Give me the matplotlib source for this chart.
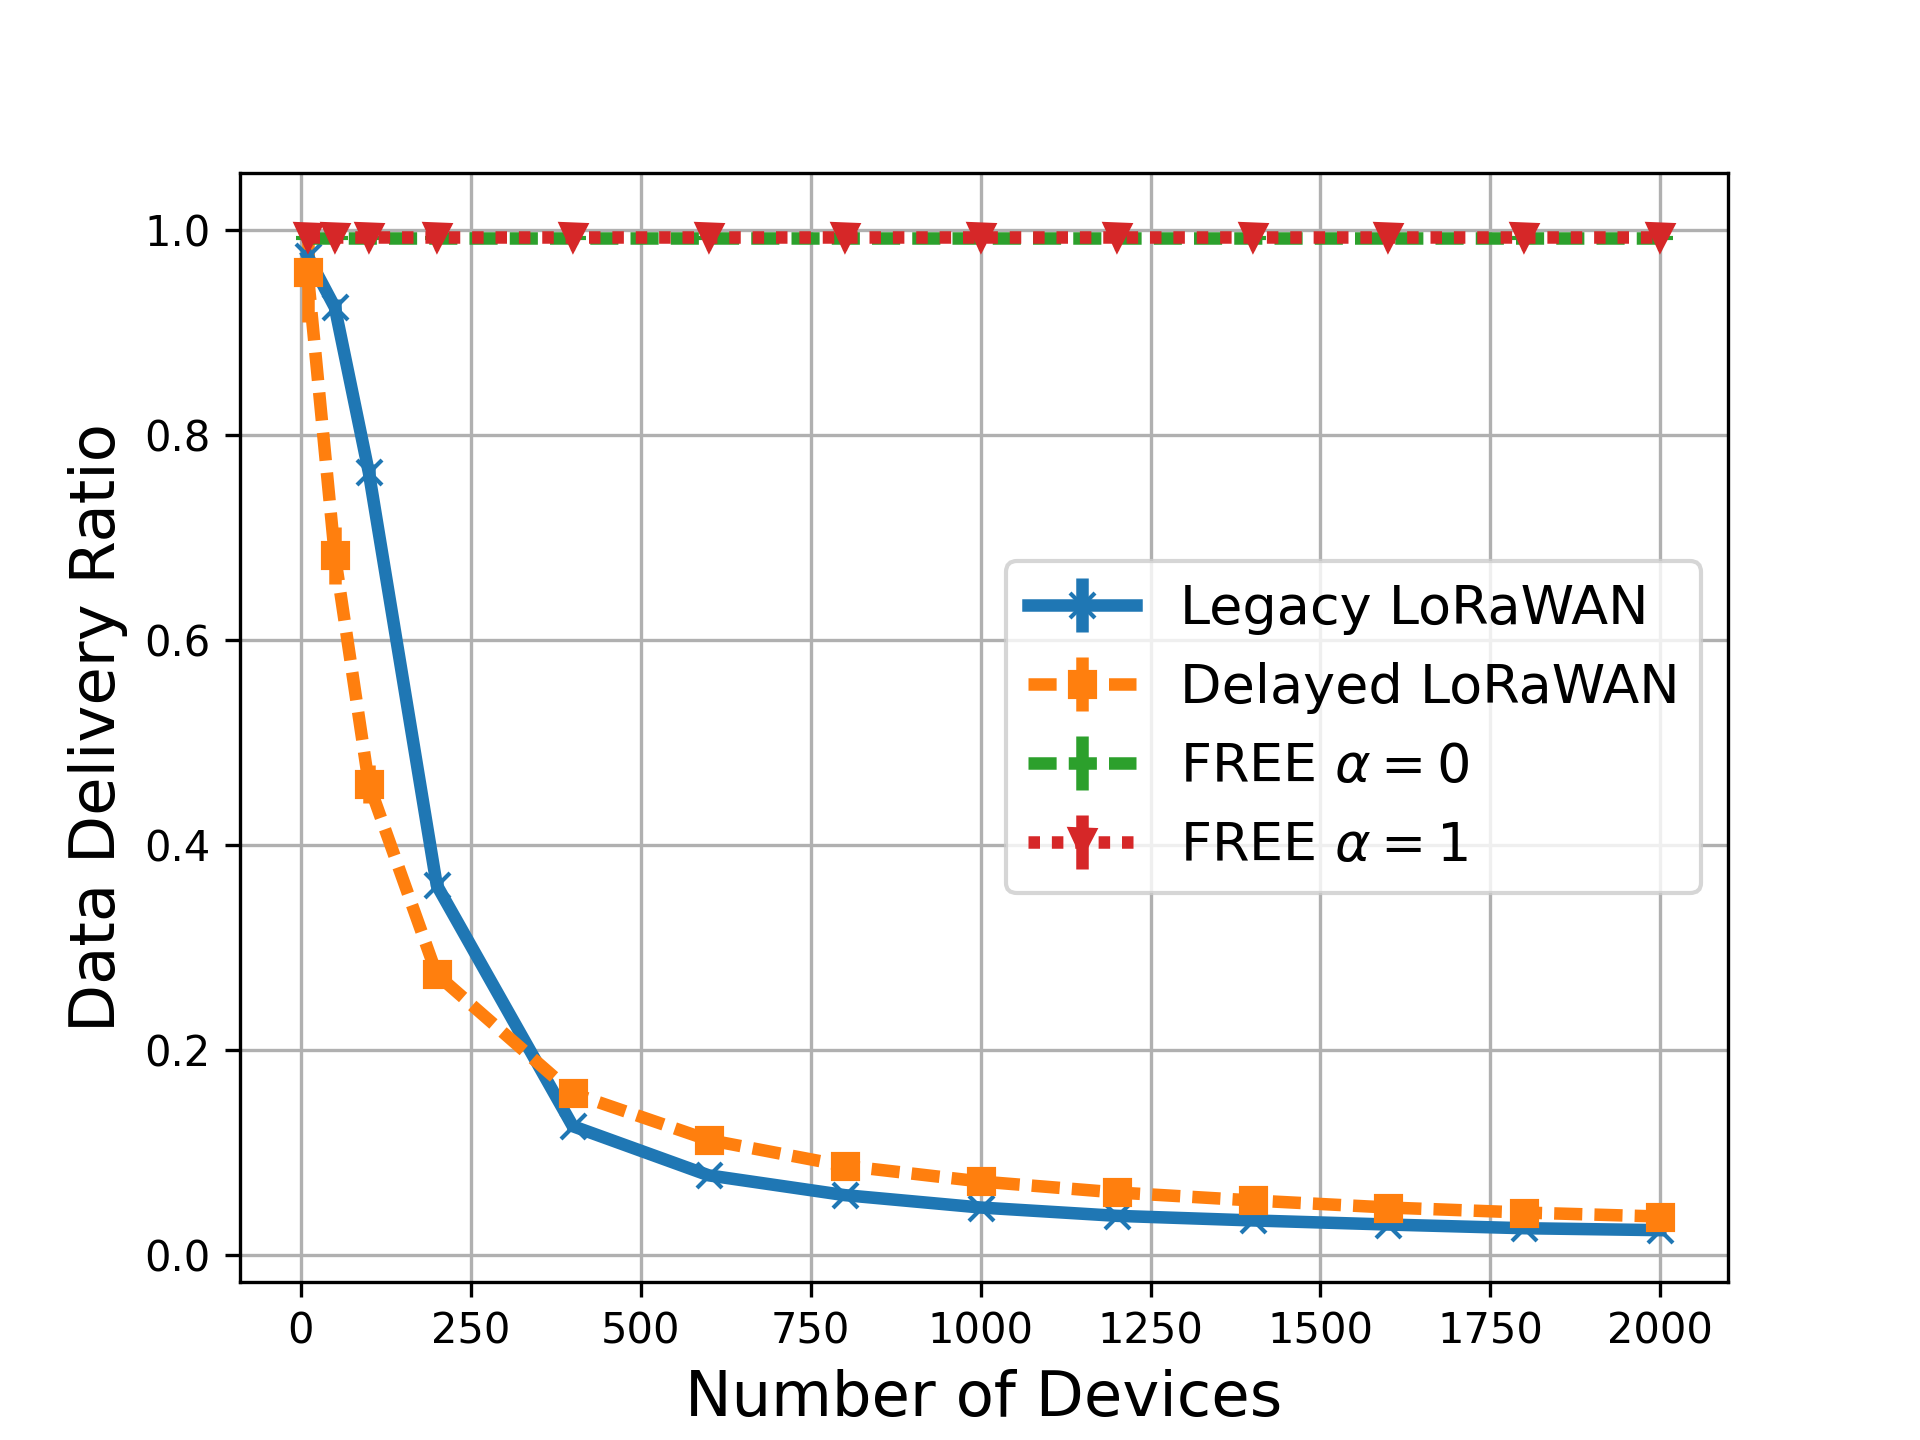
import matplotlib
matplotlib.use("Agg")
import matplotlib.pyplot as plt

devices = [10, 50, 100, 200, 400, 600, 800, 1000, 1200, 1400, 1600, 1800, 2000]

legacy = [0.975, 0.925, 0.764, 0.361, 0.126, 0.078, 0.0587, 0.0466, 0.0385, 0.034, 0.030, 0.0264, 0.0245]
legacy_err = [0.006, 0.008, 0.008, 0.006, 0.004, 0.003, 0.002, 0.002, 0.002, 0.001, 0.001, 0.001, 0.001]

delayed = [0.959, 0.683, 0.460, 0.274, 0.158, 0.1125, 0.0873, 0.072, 0.0613, 0.0535, 0.0466, 0.0417, 0.0378]
delayed_err = [0.048, 0.028, 0.0185, 0.008, 0.004, 0.003, 0.002, 0.002, 0.002, 0.001, 0.001, 0.001, 0.001]

free0 = [0.993, 0.993, 0.993, 0.993, 0.993, 0.993, 0.993, 0.993, 0.993, 0.993, 0.993, 0.993, 0.993]
free0_err = [0.004, 0.003, 0.003, 0.002, 0.002, 0.002, 0.002, 0.002, 0.002, 0.002, 0.002, 0.002, 0.002]

free1 = [0.994, 0.994, 0.994, 0.994, 0.994, 0.994, 0.994, 0.994, 0.994, 0.994, 0.994, 0.994, 0.994]
free1_err = [0.003, 0.003, 0.002, 0.002, 0.002, 0.002, 0.002, 0.002, 0.002, 0.002, 0.002, 0.002, 0.002]

labels = ["Legacy LoRaWAN", "Delayed LoRaWAN", r"FREE $\alpha = 0$", r"FREE $\alpha = 1$"]

dashed = (0, (2.25, 0.97))
dotted = (0, (0.92, 0.95))

fig, ax = plt.subplots(figsize=(6.4, 4.8), dpi=300)

ax.errorbar(devices, legacy, yerr=legacy_err, marker='x', linestyle='-', lw=3,
            color='tab:blue', label=labels[0])
ax.errorbar(devices, delayed, yerr=delayed_err, marker='s', linestyle=dashed, lw=3,
            color='tab:orange', label=labels[1])
ax.errorbar(devices, free0, yerr=free0_err, marker='+', linestyle=dashed, lw=3,
            color='tab:green', label=labels[2])
ax.errorbar(devices, free1, yerr=free1_err, marker='v', linestyle=dotted, lw=3,
            color='tab:red', label=labels[3])

ax.grid(True, color='#b0b0b0', linewidth=0.8)
ax.set_xlabel("Number of Devices", fontsize=15)
ax.set_ylabel("Data Delivery Ratio", fontsize=15)
ax.legend(loc='center right', fontsize=13)

fig.savefig("out.png", dpi=300)
